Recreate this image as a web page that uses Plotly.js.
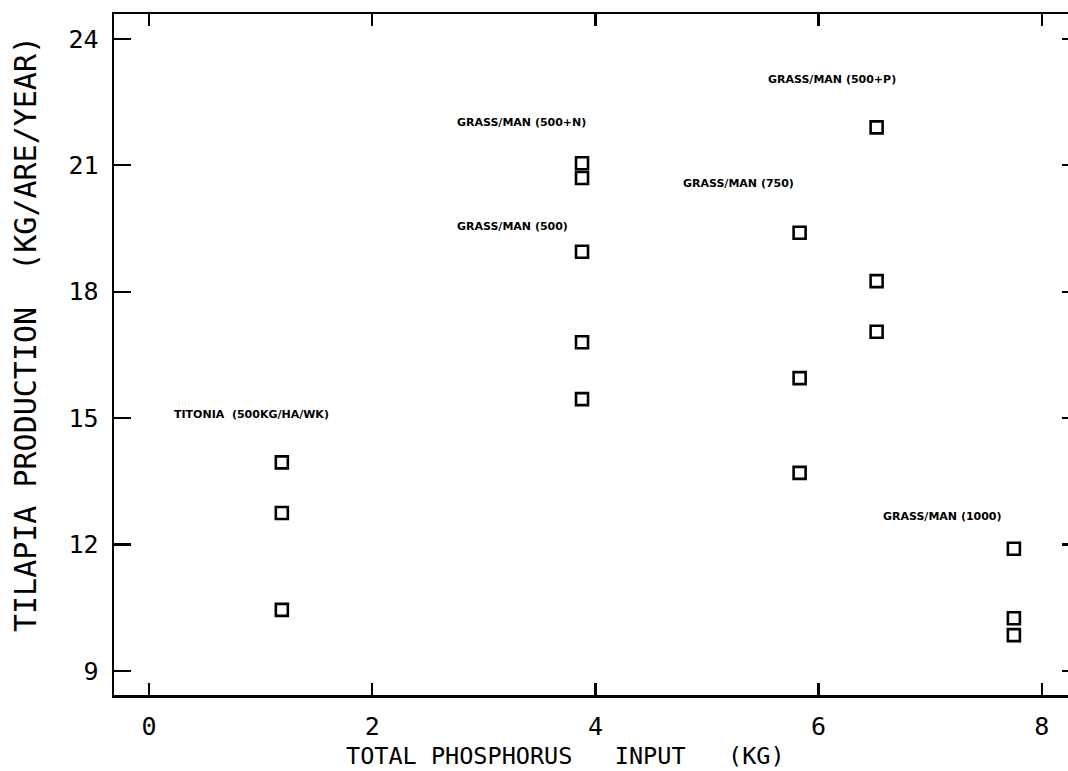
<!DOCTYPE html>
<html>
<head>
<meta charset="utf-8">
<script src="https://cdn.plot.ly/plotly-3.0.1.min.js"></script>
<style>
  html, body { margin: 0; padding: 0; background: #fff; overflow: hidden; }
  #chart { width: 1068px; height: 771px; }
</style>
</head>
<body>
<div id="chart"></div>
<script>
// Total phosphorus input (kg) for each treatment
const treatments = [
  "TITONIA  (500KG/HA/WK)",
  "GRASS/MAN (500+N)",
  "GRASS/MAN (500)",
  "GRASS/MAN (750)",
  "GRASS/MAN (500+P)",
  "GRASS/MAN (1000)"
];

// Tilapia production (kg/are/year), one point per pond
const titoniaP = [1.19, 1.19, 1.19];
const titoniaYield = [13.95, 12.75, 10.45];

const grass500P = [3.88, 3.88, 3.88, 3.88, 3.88];
const grass500Yield = [21.05, 20.7, 18.95, 16.8, 15.45];

const grass750P = [5.83, 5.83, 5.83];
const grass750Yield = [19.4, 15.95, 13.7];

const grass500PP = [6.52, 6.52, 6.52];
const grass500PYield = [21.9, 18.25, 17.05];

const grass1000P = [7.75, 7.75, 7.75];
const grass1000Yield = [11.9, 10.25, 9.85];

const xTicks = [0, 2, 4, 6, 8];
const yTicks = [9, 12, 15, 18, 21, 24];

const xTitle = "TOTAL PHOSPHORUS\u00a0\u00a0\u00a0INPUT\u00a0\u00a0\u00a0(KG)";
const yTitle = "TILAPIA PRODUCTION\u00a0\u00a0(KG/ARE/YEAR)";

const markerStyle = {
  symbol: "square-open",
  size: 12,
  color: "#000",
  line: { color: "#000", width: 2.6 }
};

function series(x, y) {
  return { x: x, y: y, type: "scatter", mode: "markers", marker: markerStyle,
           showlegend: false, hoverinfo: "x+y" };
}

const data = [
  series(titoniaP, titoniaYield),
  series(grass500P, grass500Yield),
  series(grass750P, grass750Yield),
  series(grass500PP, grass500PYield),
  series(grass1000P, grass1000Yield),
  // invisible trace that carries the right-hand tick axis
  { x: [xTicks[0]], y: [yTicks[0]], yaxis: "y2", type: "scatter", mode: "markers",
    marker: { opacity: 0 }, showlegend: false, hoverinfo: "skip" }
];

// Treatment labels placed beside each group of ponds
const labelPos = [
  [0.21, 15.08],
  [2.74, 22.01],
  [2.74, 19.54],
  [4.77, 20.56],
  [5.53, 23.03],
  [6.56, 12.66]
];

const annotations = treatments.map((t, i) => ({
  text: t,
  x: labelPos[i][0], y: labelPos[i][1],
  xref: "x", yref: "y",
  xanchor: "left", yanchor: "middle",
  showarrow: false,
  font: { family: "DejaVu Sans", size: 11, color: "#000", weight: "bold" }
}));

// Axis titles, positioned in paper space
const W = 1068, H = 771;
const M = { l: 114, r: 0, t: 14, b: 76 };
const pw = W - M.l - M.r, ph = H - M.t - M.b;

annotations.push({
  text: xTitle,
  xref: "paper", yref: "paper",
  x: (565 - M.l) / pw, y: -(756 - (H - M.b)) / ph,
  xanchor: "center", yanchor: "middle",
  showarrow: false,
  font: { family: "DejaVu Sans Mono", size: 23.5, color: "#000" }
});
annotations.push({
  text: yTitle,
  xref: "paper", yref: "paper",
  x: -(M.l - 25) / pw, y: 1 - (334 - M.t) / ph,
  xanchor: "center", yanchor: "middle",
  textangle: -90,
  showarrow: false,
  font: { family: "DejaVu Sans Mono", size: 30, color: "#000" }
});

const axisCommon = {
  showgrid: false,
  zeroline: false,
  showline: true,
  linecolor: "#000",
  linewidth: 2.5,
  ticks: "inside",
  tickcolor: "#000",
  tickwidth: 2.2,
  tickfont: { family: "DejaVu Sans Mono", size: 25, color: "#000" }
};

const yRange = [8.43, 24.59];

const layout = {
  width: W,
  height: H,
  margin: M,
  paper_bgcolor: "#fff",
  plot_bgcolor: "#fff",
  xaxis: Object.assign({}, axisCommon, {
    range: [-0.314, 8.235],
    mirror: "ticks",
    tickvals: xTicks,
    ticktext: xTicks.map(String),
    ticklen: 12,
    ticklabelstandoff: 7
  }),
  yaxis: Object.assign({}, axisCommon, {
    range: yRange,
    mirror: false,
    tickvals: yTicks,
    ticktext: yTicks.map(String),
    ticklen: 17,
    ticklabelstandoff: 8
  }),
  // right-hand frame edge runs past the page; only the stubs of its ticks show
  yaxis2: {
    overlaying: "y",
    side: "right",
    range: yRange,
    showgrid: false,
    zeroline: false,
    showline: false,
    ticks: "inside",
    tickvals: yTicks,
    ticklen: 6,
    tickwidth: 2.2,
    tickcolor: "#000",
    showticklabels: false
  },
  annotations: annotations
};

Plotly.newPlot("chart", data, layout, { displayModeBar: false, staticPlot: true });
</script>
</body>
</html>
